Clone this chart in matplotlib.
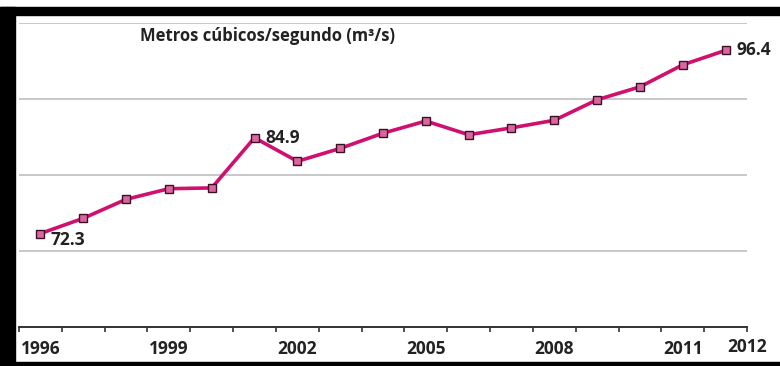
import numpy as np
import matplotlib
matplotlib.use('Agg')
import matplotlib.pyplot as plt
from matplotlib.patches import Rectangle
import matplotlib.transforms as mtransforms

plt.rcParams['font.family'] = ['Open Sans', 'DejaVu Sans']

years = list(range(1996, 2013))
caudal = [72.3, 74.3, 76.8, 78.2, 78.3, 84.9, 81.8, 83.5, 85.5,
          87.1, 85.3, 86.2, 87.2, 89.9, 91.6, 94.5, 96.4]
tick_years = [1996, 1999, 2002, 2005, 2008, 2011]
labelled = {1996: '72.3', 2001: '84.9', 2012: '96.4'}
titulo = 'Metros cúbicos/segundo (m³/s)'

fig = plt.figure(figsize=(7.8, 3.66), dpi=100)
fig.patch.set_facecolor('white')

# black frame pieces (left, top, bottom)
fig.patches.append(Rectangle((0, 0), 15/780, 359/366, transform=fig.transFigure,
                             color='black', zorder=0))
fig.patches.append(Rectangle((0, 351/366), 1, 8/366, transform=fig.transFigure,
                             color='black', zorder=0))
fig.patches.append(Rectangle((0, 0), 1, 4/366, transform=fig.transFigure,
                             color='black', zorder=0))

ax = fig.add_axes([19/780, 39/366, 728/780, 304/366])
ax.set_facecolor('none')

x = np.arange(len(years))
ax.plot(x, caudal, color='#d0106e', lw=2.6, marker='s', ms=6,
        mfc='#d966a0', mec='#3a1026', mew=1.0, zorder=3)

for yr, txt in labelled.items():
    i = years.index(yr)
    off = (7, -5) if yr == 1996 else (8, 0)
    ax.annotate(txt, (i, caudal[i]), xytext=off, textcoords='offset points',
                fontsize=12.5, fontweight='bold', color='#222222', va='center')

ax.set_xlim(-0.5, len(years) - 0.5)
ax.set_ylim(60, 100)

for gy in [70, 80, 90, 100]:
    ax.axhline(gy, color='#c8c8c8', lw=1.4, zorder=1)

for s in ['top', 'right', 'left']:
    ax.spines[s].set_visible(False)
ax.spines['bottom'].set_color('#333333')
ax.spines['bottom'].set_linewidth(1.4)

ax.set_yticks([])
ax.set_xticks([years.index(y) for y in tick_years])
ax.set_xticklabels([str(y) for y in tick_years], fontsize=12.5, fontweight='bold',
                   color='#222222')
ax.tick_params(axis='x', which='major', length=0, pad=9)
ax.set_xticks(np.arange(-0.5, len(years)), minor=True)
ax.tick_params(axis='x', which='minor', length=3.5, width=1.2, color='#333333',
               direction='out')

trans = mtransforms.blended_transform_factory(ax.transData, ax.transAxes)
ax.text(len(years) - 0.5, -0.065, '2012', transform=trans, ha='center', va='center',
        fontsize=12.5, fontweight='bold', color='#222222')

ax.text(140/780, 330/366, titulo, transform=fig.transFigure, ha='left', va='center',
        fontsize=12, fontweight='bold', color='#222222')

fig.savefig('out.png', dpi=100)
